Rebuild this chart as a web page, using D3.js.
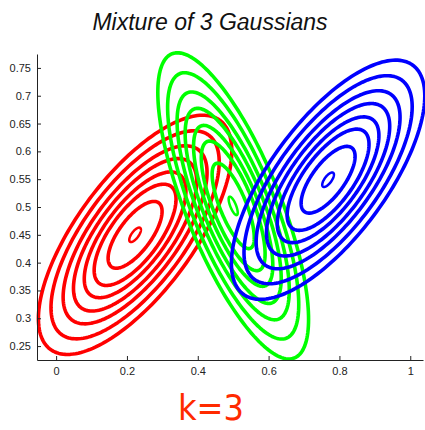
<!DOCTYPE html>
<html>
<head>
<meta charset="utf-8">
<script src="https://cdn.jsdelivr.net/npm/d3@7"></script>
<style>
  body { margin: 0; background: white; }
  svg { display: block; font-family: "Liberation Sans", Arial, sans-serif; }
  .axis path, .axis line { stroke: #222; }
  .axis text { font-size: 11px; fill: #222; }
</style>
</head>
<body>
<svg id="chart" width="425" height="430"></svg>
<script>
////////////////////////////////////////////////////////////////////////////////////
// Data: three gaussian components (mean, std devs, correlation)
var componentNames = ["red", "green", "blue"];
var componentColors = ["#ff0000", "#00ff00", "#0000ff"];
var meanX = [0.223, 0.500, 0.768];
var meanY = [0.450, 0.502, 0.549];
var sdX = [0.127, 0.099, 0.127];
var sdY = [0.100, 0.128, 0.100];
var rho = [0.70, -0.74, 0.70];
// contour rings, in standard deviations (mahalanobis radius)
var ringRadii = [2.15, 1.87, 1.60, 1.37, 1.13, 0.91, 0.60, 0.13];

var xTicks = [0, 0.2, 0.4, 0.6, 0.8, 1];
var yTicks = [0.25, 0.3, 0.35, 0.4, 0.45, 0.5, 0.55, 0.6, 0.65, 0.7, 0.75];

////////////////////////////////////////////////////////////////////////////////////
// Scales
var svg = d3.select("#chart");
var xScale = d3.scaleLinear().domain([-0.054, 1.036]).range([37, 423]);
var yScale = d3.scaleLinear().domain([0.225, 0.775]).range([360, 54]);

// title
svg.append("text")
   .attr("x", 210)
   .attr("y", 30)
   .attr("text-anchor", "middle")
   .style("font-size", "23px")
   .style("font-style", "italic")
   .style("fill", "#111")
   .text("Mixture of 3 Gaussians");

////////////////////////////////////////////////////////////////////////////////////
// Ellipse points for one ring of one component
function ringPoints(k, r) {
  var a = sdX[k],
      b = rho[k] * sdY[k],
      c = sdY[k] * Math.sqrt(1 - rho[k] * rho[k]);
  return d3.range(0, 2 * Math.PI, Math.PI / 90).map(function(t) {
    var u = r * Math.cos(t), v = r * Math.sin(t);
    return [meanX[k] + a * u, meanY[k] + b * u + c * v];
  });
} // end ringPoints

var line = d3.line()
             .x(function(d) { return xScale(d[0]); })
             .y(function(d) { return yScale(d[1]); })
             .curve(d3.curveLinearClosed);

var groups = svg.selectAll(".comp")
                .data(componentNames)
                .enter()
                .append("g")
                .attr("class", "comp");

groups.each(function(name, k) {
  d3.select(this).selectAll("path")
    .data(ringRadii)
    .enter()
    .append("path")
    .attr("d", function(r) { return line(ringPoints(k, r)); })
    .style("fill", "none")
    .style("stroke", componentColors[k])
    .style("stroke-width", function(r) { return r < 0.3 ? 2.5 : 3.6; })
    .style("stroke-linejoin", "round");
});

////////////////////////////////////////////////////////////////////////////////////
// Axes (ticks point inward, no box)
svg.append("g")
   .attr("class", "axis")
   .attr("transform", "translate(0,360)")
   .call(d3.axisBottom(xScale)
           .tickValues(xTicks)
           .tickFormat(function(d) { return String(+d.toFixed(2)); })
           .tickSize(-4)
           .tickSizeOuter(0)
           .tickPadding(7));

svg.append("g")
   .attr("class", "axis")
   .attr("transform", "translate(37,0)")
   .call(d3.axisLeft(yScale)
           .tickValues(yTicks)
           .tickFormat(function(d) { return String(+d.toFixed(2)); })
           .tickSize(-4)
           .tickSizeOuter(0)
           .tickPadding(6));

// handwritten note under the chart
svg.append("text")
   .attr("x", 211)
   .attr("y", 420)
   .attr("text-anchor", "middle")
   .attr("textLength", 66)
   .attr("lengthAdjust", "spacingAndGlyphs")
   .style("font-family", "'DejaVu Sans', sans-serif")
   .style("font-size", "36px")
   .style("fill", "#ff2a00")
   .text("k=3");
</script>
</body>
</html>
